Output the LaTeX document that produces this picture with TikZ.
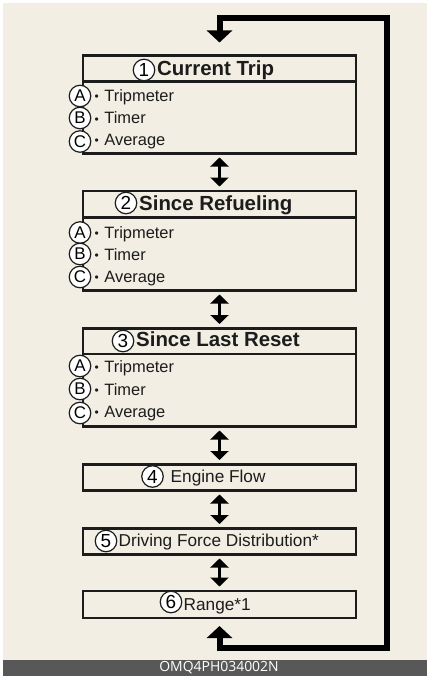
\documentclass[tikz,border=0pt]{standalone}
\usepackage{fontspec}
\setmainfont{Liberation Sans}
\newfontfamily\barfont{Open Sans}
\usetikzlibrary{arrows.meta}
\definecolor{bg}{RGB}{242,238,228}
\definecolor{barc}{RGB}{88,88,88}
\definecolor{ink}{RGB}{28,28,28}
\newcommand{\blt}{\raisebox{0.8bp}{\fontsize{12}{12}\selectfont•}\hspace{5.5bp}}
\begin{document}
\begin{tikzpicture}[x=1bp,y=-1bp,
  frame/.style={draw=ink,line width=2.5bp,minimum width=273bp,inner sep=0pt,anchor=north},
  numc/.style={circle,draw=ink,line width=1.2bp,fill=white,minimum size=21.5bp,inner sep=0pt,font=\fontsize{19}{19}\selectfont},
  letc/.style={circle,draw=ink,line width=1.2bp,fill=white,minimum size=21.5bp,inner sep=0pt,font=\fontsize{17}{17}\selectfont},
  title/.style={anchor=base west,inner sep=0pt,font=\fontsize{20.5}{24}\selectfont\bfseries,text=ink},
  item/.style={anchor=base west,inner sep=0pt,font=\fontsize{16.5}{19}\selectfont,text=ink},
  small/.style={anchor=base west,inner sep=0pt,font=\fontsize{17.3}{20}\selectfont,text=ink},
  dbl/.style={line width=3.5bp,draw=black,{Triangle[width=18bp,length=9bp]}-{Triangle[width=18bp,length=9bp]},shorten <=3bp,shorten >=3bp},
  loopline/.style={line width=6bp,draw=black,line join=miter,{Triangle[width=25bp,length=12bp]}-{Triangle[width=25bp,length=12bp]},shorten <=7bp,shorten >=12bp}
]
\useasboundingbox (0,0) rectangle (430,676);
\fill[white] (0,0) rectangle (430,676);
\fill[bg] (3,3) rectangle (427,660);
\fill[barc] (3,660) rectangle (427,676);
\node[text=white,font=\barfont\fontsize{14}{16}\selectfont,inner sep=0pt] (code) at (219,668) {OMQ4PH034002N};

% boxes
\node[frame,minimum height=26bp] (h1) at (219.5,54.5) {};
\node[frame,minimum height=71.5bp] (r1) at (219.5,80.5) {};
\node[frame,minimum height=26.5bp] (h2) at (219.5,189.5) {};
\node[frame,minimum height=73bp] (r2) at (219.5,216) {};
\node[frame,minimum height=25.5bp] (h3) at (219.5,327) {};
\node[frame,minimum height=72.5bp] (r3) at (219.5,352.5) {};
\node[frame,minimum height=26bp] (b4) at (219.5,463) {};
\node[frame,minimum height=26bp] (b5) at (219.5,527) {};
\node[frame,minimum height=27bp] (b6) at (219.5,589.5) {};

% headers
\node[numc] (n1) at (144,70) {1};
\node[title] (t1) at (157,76) {Current Trip};
\node[numc] (n2) at (126,203) {2};
\node[title] (t2) at (139,210.7) {Since Refueling};
\node[numc] (n3) at (123,341) {3};
\node[title] (t3) at (136,346.7) {Since Last Reset};

% items box 1
\node[letc] (a1) at (80,96) {A};
\node[item] (ia1) at (94.5,101.5) {\blt Tripmeter};
\node[letc] (b1) at (80,118) {B};
\node[item] (ib1) at (94.5,124) {\blt Timer};
\node[letc] (c1) at (80,141.5) {C};
\node[item] (ic1) at (94.5,145.5) {\blt Average};
% items box 2
\node[letc] (a2) at (80,232.5) {A};
\node[item] (ia2) at (94.5,238) {\blt Tripmeter};
\node[letc] (b2) at (80,254) {B};
\node[item] (ib2) at (94.5,260.7) {\blt Timer};
\node[letc] (c2) at (80,277) {C};
\node[item] (ic2) at (94.5,282) {\blt Average};
% items box 3
\node[letc] (a3) at (80,366) {A};
\node[item] (ia3) at (94.5,372.7) {\blt Tripmeter};
\node[letc] (b3) at (80,389) {B};
\node[item] (ib3) at (94.5,395) {\blt Timer};
\node[letc] (c3) at (80,413) {C};
\node[item] (ic3) at (94.5,417) {\blt Average};

% small boxes
\node[numc] (n4) at (152.5,476.5) {4};
\node[small] (t4) at (170.5,482.3) {Engine Flow};
\node[numc] (n5) at (106,541) {5};
\node[small] (t5) at (118.5,546.7) {Driving Force Distribution*};
\node[numc] (n6) at (171,602) {6};
\node[small] (t6) at (183.5,610) {Range*1};

% double arrows
\draw[dbl] (r1.south) -- (h2.north);
\draw[dbl] (r2.south) -- (h3.north);
\draw[dbl] (r3.south) -- (b4.north);
\draw[dbl] (b4.south) -- (b5.north);
\draw[dbl] (b5.south) -- (b6.north);

% loop
\coordinate (lb) at (386.5,648);
\coordinate (lt) at (386.5,18);
\draw[loopline] (b6.south) |- (lb) -- (lt) -| (h1.north);
\end{tikzpicture}
\end{document}
